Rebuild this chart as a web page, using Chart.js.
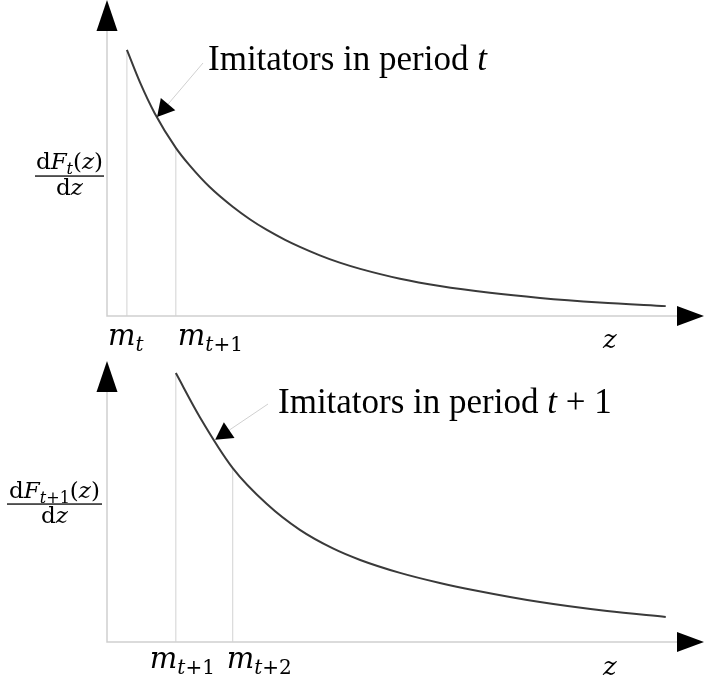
<!DOCTYPE html>
<html>
<head>
<meta charset="utf-8">
<script src="https://cdn.jsdelivr.net/npm/chart.js@4.4.1/dist/chart.umd.min.js"></script>
<style>
  html, body { margin: 0; padding: 0; background: #fff; }
  #wrap { position: relative; width: 704px; height: 683px; overflow: hidden; }
  canvas { position: absolute; left: 0; }
  #top { top: 0; }
  #bottom { top: 340px; }
</style>
</head>
<body>
<div id="wrap">
  <canvas id="top" width="704" height="360"></canvas>
  <canvas id="bottom" width="704" height="343"></canvas>
</div>
<script>
// curve values (z from 0 to 10, density in relative units)
const zTop = [0.35, 0.58, 0.84, 1.21, 1.46, 1.81, 2.21, 2.51, 2.81, 3.13, 3.39, 3.74, 4.09, 4.45, 5.15, 5.85, 6.73, 7.61, 8.66, 9.82];
const densTop = [9.43, 8.28, 7.18, 5.96, 5.32, 4.56, 3.87, 3.43, 3.05, 2.70, 2.45, 2.15, 1.89, 1.67, 1.32, 1.06, 0.82, 0.64, 0.48, 0.35];

const zBottom = [1.21, 1.63, 2.21, 2.81, 3.39, 3.97, 4.45, 5.15, 5.85, 6.43, 7.61, 8.79, 9.82];
const densBottom = [9.57, 8.01, 6.19, 4.91, 3.99, 3.33, 2.92, 2.46, 2.10, 1.85, 1.42, 1.10, 0.89];

// thresholds m on the z axis and the curve height above them
const marksTop = [0.35, 1.21];
const markHeightsTop = [9.43, 5.96];
const marksBottom = [1.21, 2.21];
const markHeightsBottom = [9.57, 6.19];

// tick labels: base letter + subscript
const tickLabelsTop = [['m', 't'], ['m', 't+1']];
const tickLabelsBottom = [['m', 't+1'], ['m', 't+2']];

const MATH = '"DejaVu Serif"';
const TEXT = '"Liberation Serif"';
const AXIS_COLOR = '#cfcfcf';

function italic(size) { return `italic ${size}px ${MATH}`; }
function roman(size) { return `${size}px ${MATH}`; }

function subRuns(sub, size) {
  const s = Math.round(size * 0.7);
  const dy = size * 0.22;
  const runs = [{ t: sub[0], f: italic(s), dy: dy }];
  if (sub.length > 1) runs.push({ t: sub.slice(1), f: roman(s), dy: dy });
  return runs;
}

function runsWidth(ctx, runs) {
  let w = 0;
  runs.forEach(r => { ctx.font = r.f; w += ctx.measureText(r.t).width; });
  return w;
}

function drawRuns(ctx, runs, x, y) {
  runs.forEach(r => {
    ctx.font = r.f;
    ctx.fillText(r.t, x, y + (r.dy || 0));
    x += ctx.measureText(r.t).width;
  });
  return x;
}

function drawTriangle(ctx, pts) {
  ctx.beginPath();
  ctx.moveTo(pts[0][0], pts[0][1]);
  ctx.lineTo(pts[1][0], pts[1][1]);
  ctx.lineTo(pts[2][0], pts[2][1]);
  ctx.closePath();
  ctx.fill();
}

const panels = [
  {
    id: 'top',
    z: zTop, dens: densTop, marks: marksTop, markHeights: markHeightsTop,
    ticks: tickLabelsTop, tickDx: [-19, 2],
    yMax: 11.2,
    padding: { left: 107, right: 28, top: 0, bottom: 44 },
    tickBase: 29, zBase: 32,
    ySub: 't',
    frac: { cx: 69.5, num: 169, bar: 176, den: 195, x0: 35, x1: 104 },
    note: { x: 208, y: 70, extra: '', from: [203, 63], tip: [0.88, 7.05] }
  },
  {
    id: 'bottom',
    z: zBottom, dens: densBottom, marks: marksBottom, markHeights: markHeightsBottom,
    ticks: tickLabelsBottom, tickDx: [-26, -6],
    yMax: 10,
    padding: { left: 107, right: 28, top: 21, bottom: 41 },
    tickBase: 26, zBase: 33,
    ySub: 't+1',
    frac: { cx: 54.5, num: 158, bar: 164, den: 183, x0: 7, x1: 102 },
    note: { x: 278, y: 73, extra: ' + 1', from: [268, 64], tip: [1.90, 7.2] }
  }
];

function makePanel(p) {
  const datasets = [{
    data: p.z.map((z, i) => ({ x: z, y: p.dens[i] })),
    showLine: true,
    borderColor: '#3a3a3a',
    borderWidth: 2,
    pointRadius: 0,
    cubicInterpolationMode: 'monotone',
    clip: false
  }];
  p.marks.forEach((m, i) => {
    datasets.push({
      data: [{ x: m, y: 0 }, { x: m, y: p.markHeights[i] }],
      showLine: true,
      borderColor: '#d2d2d2',
      borderWidth: 1,
      pointRadius: 0
    });
  });

  const decor = {
    id: 'decor',
    beforeDatasetsDraw(chart) {
      const ctx = chart.ctx;
      const a = chart.chartArea;
      ctx.save();
      ctx.strokeStyle = AXIS_COLOR;
      ctx.lineWidth = 1.5;
      ctx.beginPath();
      ctx.moveTo(a.left, a.top + 30);
      ctx.lineTo(a.left, a.bottom);
      ctx.lineTo(a.right + 2, a.bottom);
      ctx.stroke();
      ctx.restore();
    },
    afterDraw(chart) {
      const ctx = chart.ctx;
      const a = chart.chartArea;
      const xs = chart.scales.x;
      const ys = chart.scales.y;
      ctx.save();
      ctx.fillStyle = '#000';
      ctx.textBaseline = 'alphabetic';

      // axis arrowheads
      drawTriangle(ctx, [[a.left, a.top], [a.left - 10.5, a.top + 31], [a.left + 10.5, a.top + 31]]);
      drawTriangle(ctx, [[a.right + 28, a.bottom], [a.right + 1, a.bottom - 10], [a.right + 1, a.bottom + 10]]);

      // tick labels under the thresholds
      p.marks.forEach((m, i) => {
        const lab = p.ticks[i];
        const runs = [{ t: lab[0], f: italic(29) }].concat(subRuns(lab[1], 29));
        drawRuns(ctx, runs, xs.getPixelForValue(m) + p.tickDx[i], a.bottom + p.tickBase);
      });
      ctx.font = italic(26);
      ctx.fillText('z', a.right - 73, a.bottom + p.zBase);

      // y label as a fraction
      const f = p.frac;
      const num = [{ t: 'd', f: roman(23) }, { t: 'F', f: italic(23) }]
        .concat(subRuns(p.ySub, 23))
        .concat([{ t: '(', f: roman(23) }, { t: 'z', f: italic(23) }, { t: ')', f: roman(23) }]);
      drawRuns(ctx, num, f.cx - runsWidth(ctx, num) / 2, f.num);
      const den = [{ t: 'd', f: roman(23) }, { t: 'z', f: italic(23) }];
      drawRuns(ctx, den, f.cx - runsWidth(ctx, den) / 2, f.den);
      ctx.fillRect(f.x0, f.bar - 0.6, f.x1 - f.x0, 1.3);

      // annotation with leader line and arrowhead
      const n = p.note;
      const tx = xs.getPixelForValue(n.tip[0]);
      const ty = ys.getPixelForValue(n.tip[1]);
      const dx = tx - n.from[0], dy = ty - n.from[1];
      const len = Math.hypot(dx, dy);
      const ux = dx / len, uy = dy / len;
      const bx = tx - ux * 17, by = ty - uy * 17;
      ctx.strokeStyle = '#d0d0d0';
      ctx.lineWidth = 1;
      ctx.beginPath();
      ctx.moveTo(n.from[0], n.from[1]);
      ctx.lineTo(bx, by);
      ctx.stroke();
      drawTriangle(ctx, [[tx, ty], [bx - uy * 9.5, by + ux * 9.5], [bx + uy * 9.5, by - ux * 9.5]]);

      const textRuns = [
        { t: 'Imitators in period ', f: `35px ${TEXT}` },
        { t: 't', f: `italic 35px ${TEXT}` }
      ];
      if (n.extra) textRuns.push({ t: n.extra, f: `35px ${TEXT}` });
      drawRuns(ctx, textRuns, n.x, n.y);
      ctx.restore();
    }
  };

  return new Chart(document.getElementById(p.id), {
    type: 'scatter',
    data: { datasets: datasets },
    options: {
      responsive: false,
      animation: false,
      layout: { padding: p.padding },
      plugins: { legend: { display: false }, tooltip: { enabled: false } },
      scales: {
        x: { type: 'linear', min: 0, max: 10, display: false },
        y: { type: 'linear', min: 0, max: p.yMax, display: false }
      }
    },
    plugins: [decor]
  });
}

panels.forEach(makePanel);
</script>
</body>
</html>
